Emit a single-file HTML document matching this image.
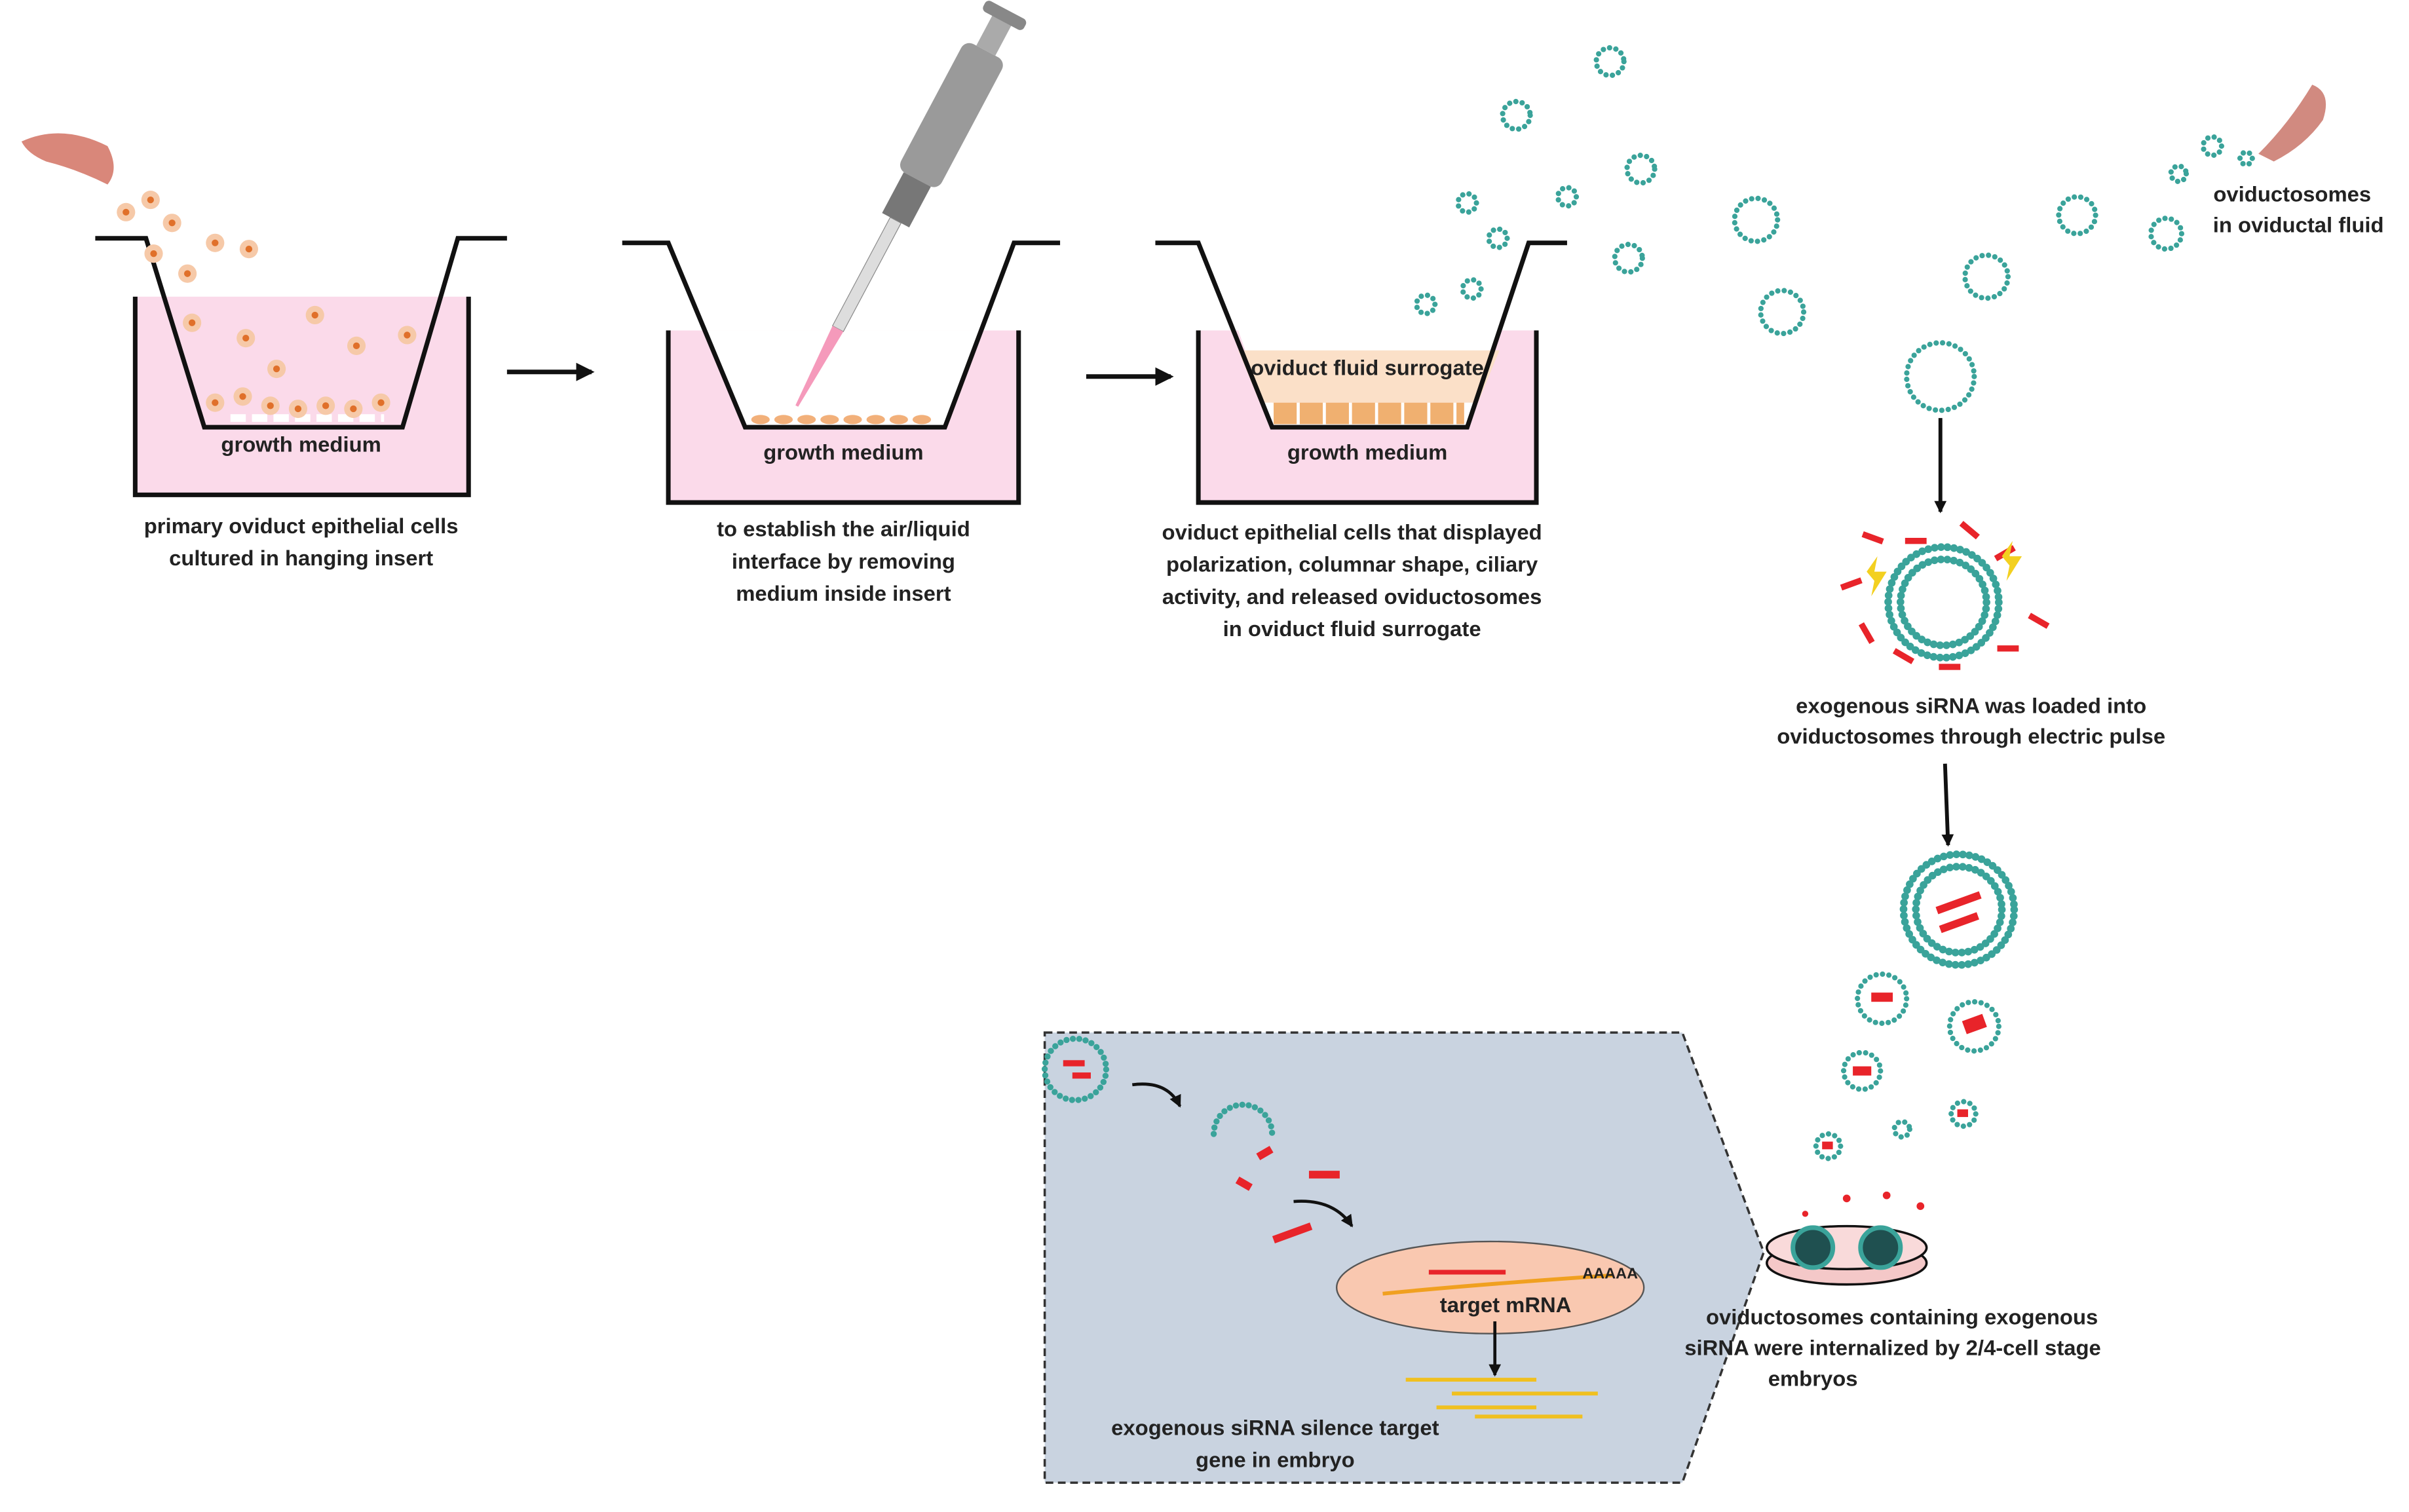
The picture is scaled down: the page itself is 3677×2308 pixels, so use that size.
<!DOCTYPE html>
<html><head><meta charset="utf-8"><style>
html,body{margin:0;padding:0;background:#fff}
svg{display:block}
text{font-family:"Liberation Sans",sans-serif;font-weight:bold;fill:#222}
</style></head><body>
<svg width="3677" height="2308" viewBox="0 0 1568 984" xmlns="http://www.w3.org/2000/svg">
<defs>
<marker id="ah" markerWidth="8" markerHeight="8" refX="7" refY="4" orient="auto" markerUnits="userSpaceOnUse"><path d="M0,0 L8,4 L0,8z" fill="#111"/></marker>
<marker id="ah2" markerWidth="12" markerHeight="12" refX="10" refY="6" orient="auto" markerUnits="userSpaceOnUse"><path d="M0,0 L12,6 L0,12z" fill="#111"/></marker>
<g id="cell"><circle r="6" fill="#f6c9a8"/><circle r="2.2" fill="#e0702a"/></g>
</defs>
<style>
.ves{fill:none;stroke:#3aa39a;stroke-linecap:round;stroke-dasharray:0 4.2}
.w{fill:none;stroke:#111;stroke-width:3}
.lab{font-size:14px;text-anchor:middle}
.si{fill:#e8242a}
</style>

<path d="M14,92 Q40,80 70,95 Q78,110 70,120 Q50,110 30,105 Q18,100 14,92z" fill="#d9877a"/>
<path d="M1470,100 Q1490,80 1505,55 Q1518,60 1512,78 Q1500,95 1480,105z" fill="#d18a80"/>

<!-- insert 1 -->
<rect x="88" y="193" width="217" height="129" fill="#fbdaea"/>
<path d="M88,193 V322 H305 V193" class="w" stroke-width="2"/>
<polyline class="w" points="62,155 95,155 133,278 262,278 298,155 330,155"/>
<path d="M150,272 H250" stroke="#fff" stroke-width="5" stroke-dasharray="10 4"/>
<use href="#cell" x="82" y="138"/><use href="#cell" x="98" y="130"/><use href="#cell" x="112" y="145"/><use href="#cell" x="140" y="158"/><use href="#cell" x="162" y="162"/><use href="#cell" x="122" y="178"/><use href="#cell" x="100" y="165"/>
<use href="#cell" x="125" y="210"/><use href="#cell" x="160" y="220"/><use href="#cell" x="205" y="205"/><use href="#cell" x="232" y="225"/><use href="#cell" x="265" y="218"/><use href="#cell" x="180" y="240"/>
<use href="#cell" x="140" y="262"/><use href="#cell" x="158" y="258"/><use href="#cell" x="176" y="264"/><use href="#cell" x="194" y="266"/><use href="#cell" x="212" y="264"/><use href="#cell" x="230" y="266"/><use href="#cell" x="248" y="262"/>
<text x="196" y="294" class="lab" font-size="15">growth medium</text>
<text x="196" y="347" class="lab">primary oviduct epithelial cells</text>
<text x="196" y="368" class="lab">cultured in hanging insert</text>

<line x1="330" y1="242" x2="385" y2="242" stroke="#111" stroke-width="3" marker-end="url(#ah2)"/>

<!-- insert 2 -->
<rect x="435" y="215" width="228" height="112" fill="#fbdaea"/>
<polygon points="459,215 485,278 615,278 639,215" fill="#fff"/>
<path d="M435,215 V327 H663 V215" class="w" stroke-width="2"/>
<polyline class="w" points="405,158 435,158 485,278 615,278 660,158 690,158"/>
<g fill="#f2b07a"><ellipse cx="495" cy="273" rx="6" ry="3"/><ellipse cx="510" cy="273" rx="6" ry="3"/><ellipse cx="525" cy="273" rx="6" ry="3"/><ellipse cx="540" cy="273" rx="6" ry="3"/><ellipse cx="555" cy="273" rx="6" ry="3"/><ellipse cx="570" cy="273" rx="6" ry="3"/><ellipse cx="585" cy="273" rx="6" ry="3"/><ellipse cx="600" cy="273" rx="6" ry="3"/></g>
<g transform="rotate(28 590 130)">
<rect x="575" y="20" width="30" height="95" rx="6" fill="#9a9a9a"/>
<rect x="580" y="115" width="20" height="30" fill="#777"/>
<rect x="586" y="145" width="8" height="80" fill="#ddd" stroke="#888" stroke-width="0.5"/>
<polygon points="586,225 594,225 591,282 589,282" fill="#f59abb"/>
<rect x="583" y="-5" width="14" height="25" fill="#aaa"/>
<rect x="575" y="-10" width="30" height="8" rx="3" fill="#888"/>
</g>
<text x="549" y="299" class="lab" font-size="15">growth medium</text>
<text x="549" y="349" class="lab">to establish the air/liquid</text>
<text x="549" y="370" class="lab">interface by removing</text>
<text x="549" y="391" class="lab">medium inside insert</text>

<line x1="707" y1="245" x2="762" y2="245" stroke="#111" stroke-width="3" marker-end="url(#ah2)"/>

<!-- insert 3 -->
<polygon points="780,215 806,215 828,278 955,278 976,215 1000,215 1000,327 780,327" fill="#fbdaea"/>
<path d="M780,215 V327 H1000 V215" class="w" stroke-width="2"/>
<polygon points="806,228 976,228 962,262 820,262" fill="#fbe0c8"/>
<g fill="#f0b070"><rect x="828" y="262" width="125" height="14"/></g>
<path d="M828,262 V276 M845,262 V276 M862,262 V276 M879,262 V276 M896,262 V276 M913,262 V276 M930,262 V276 M947,262 V276" stroke="#fff" stroke-width="2"/>
<polyline class="w" points="752,158 780,158 828,278 955,278 995,158 1020,158"/>
<text x="890" y="244" class="lab" font-size="13">oviduct fluid surrogate</text>
<text x="890" y="299" class="lab" font-size="15">growth medium</text>
<text x="880" y="351" class="lab">oviduct epithelial cells that displayed</text>
<text x="880" y="372" class="lab">polarization, columnar shape, ciliary</text>
<text x="880" y="393" class="lab">activity, and released oviductosomes</text>
<text x="880" y="414" class="lab">in oviduct fluid surrogate</text>

<g class="ves" stroke-width="3.5">
<circle cx="1048" cy="40" r="9"/><circle cx="987" cy="75" r="9"/><circle cx="1068" cy="110" r="9"/><circle cx="955" cy="132" r="6"/><circle cx="1020" cy="128" r="6"/><circle cx="975" cy="155" r="6"/><circle cx="1060" cy="168" r="9"/><circle cx="958" cy="188" r="6"/><circle cx="928" cy="198" r="6"/>
<circle cx="1143" cy="143" r="14"/><circle cx="1160" cy="203" r="14"/><circle cx="1293" cy="180" r="14"/><circle cx="1352" cy="140" r="12"/><circle cx="1410" cy="152" r="10"/><circle cx="1440" cy="95" r="6"/><circle cx="1418" cy="113" r="5"/><circle cx="1462" cy="103" r="4"/>
<circle cx="1263" cy="245" r="22"/>
</g>
<text x="1492" y="131" class="lab">oviductosomes</text>
<text x="1496" y="151" class="lab">in oviductal fluid</text>

<line x1="1263" y1="272" x2="1263" y2="333" stroke="#111" stroke-width="2.5" marker-end="url(#ah)"/>

<g class="ves" stroke-width="5"><circle cx="1265" cy="392" r="36"/><circle cx="1265" cy="392" r="28"/></g>
<g class="si">
<rect x="1212" y="348" width="14" height="4" transform="rotate(20 1219 350)"/><rect x="1240" y="350" width="14" height="4"/><rect x="1275" y="343" width="14" height="4" transform="rotate(40 1282 345)"/><rect x="1298" y="358" width="14" height="4" transform="rotate(-30 1305 360)"/>
<rect x="1320" y="402" width="14" height="4" transform="rotate(30 1327 404)"/><rect x="1300" y="420" width="14" height="4"/><rect x="1262" y="432" width="14" height="4"/><rect x="1232" y="425" width="14" height="4" transform="rotate(30 1239 427)"/><rect x="1208" y="410" width="14" height="4" transform="rotate(60 1215 412)"/><rect x="1198" y="378" width="14" height="4" transform="rotate(-20 1205 380)"/>
</g>
<polygon points="1215,372 1222,362 1220,372 1228,372 1218,388 1220,378" fill="#f3d020"/>
<polygon points="1303,362 1310,352 1308,362 1316,362 1306,378 1308,368" fill="#f3d020"/>
<text x="1283" y="464" class="lab">exogenous siRNA was loaded into</text>
<text x="1283" y="484" class="lab">oviductosomes through electric pulse</text>

<line x1="1266" y1="497" x2="1268" y2="550" stroke="#111" stroke-width="2.5" marker-end="url(#ah)"/>

<g class="ves" stroke-width="5"><circle cx="1275" cy="592" r="36"/><circle cx="1275" cy="592" r="28"/></g>
<g class="si"><rect x="1260" y="585" width="30" height="5" transform="rotate(-20 1275 588)"/><rect x="1262" y="598" width="26" height="5" transform="rotate(-20 1275 600)"/></g>
<g class="ves" stroke-width="3.5"><circle cx="1225" cy="650" r="16"/><circle cx="1285" cy="668" r="16"/><circle cx="1212" cy="697" r="12"/><circle cx="1278" cy="725" r="8"/><circle cx="1190" cy="746" r="8"/><circle cx="1238" cy="735" r="5"/></g>
<g class="si"><rect x="1218" y="646" width="14" height="6"/><rect x="1278" y="662" width="14" height="9" transform="rotate(-20 1285 666)"/><rect x="1206" y="694" width="12" height="6"/><rect x="1274" y="722" width="7" height="5"/><rect x="1186" y="743" width="7" height="5"/></g>
<g fill="#e8242a"><circle cx="1202" cy="780" r="2.5"/><circle cx="1228" cy="778" r="2.5"/><circle cx="1250" cy="785" r="2.5"/><circle cx="1175" cy="790" r="2"/></g>

<!-- gray box -->
<polygon points="680,672 1095,672 1148,815 1095,965 680,965" fill="#c9d3e0" stroke="#333" stroke-width="1.5" stroke-dasharray="5 3"/>
<g class="ves" stroke-width="4"><circle cx="700" cy="696" r="20"/></g>
<g class="si"><rect x="692" y="690" width="14" height="4"/><rect x="698" y="698" width="12" height="4"/></g>
<path d="M737,706 Q760,703 768,720" fill="none" stroke="#111" stroke-width="2" marker-end="url(#ah)"/>
<path d="M790,738 A18,18 0 1,1 828,738" class="ves" stroke-width="4"/>
<g class="si"><rect x="818" y="748" width="10" height="5" transform="rotate(-30 823 750)"/><rect x="805" y="768" width="10" height="5" transform="rotate(30 810 770)"/><rect x="852" y="762" width="20" height="5"/><rect x="828" y="800" width="26" height="5" transform="rotate(-20 841 802)"/></g>
<path d="M842,782 Q868,780 880,798" fill="none" stroke="#111" stroke-width="2" marker-end="url(#ah)"/>
<ellipse cx="970" cy="838" rx="100" ry="30" fill="#f9c8b0" stroke="#555" stroke-width="1"/>
<path d="M900,842 Q960,836 1050,830" fill="none" stroke="#f0a020" stroke-width="2.5"/>
<path d="M930,828 H980" stroke="#e8242a" stroke-width="3"/>
<text x="980" y="854" class="lab" font-size="11">target mRNA</text>
<text x="1030" y="832" font-size="10" font-weight="normal">AAAAA</text>
<line x1="973" y1="860" x2="973" y2="895" stroke="#111" stroke-width="2" marker-end="url(#ah)"/>
<g stroke="#f0c020" stroke-width="2.5"><line x1="915" y1="898" x2="1000" y2="898"/><line x1="945" y1="907" x2="1040" y2="907"/><line x1="935" y1="916" x2="1000" y2="916"/><line x1="960" y1="922" x2="1030" y2="922"/></g>
<text x="830" y="934" class="lab">exogenous siRNA silence target</text>
<text x="830" y="955" class="lab">gene in embryo</text>

<!-- dish (on top) -->
<ellipse cx="1202" cy="822" rx="52" ry="14" fill="#f4c8c8" stroke="#111" stroke-width="1.5"/>
<ellipse cx="1202" cy="812" rx="52" ry="14" fill="#f9dada" stroke="#111" stroke-width="1.5"/>
<circle cx="1180" cy="812" r="13" fill="#1f5050" stroke="#3aa39a" stroke-width="3"/>
<circle cx="1224" cy="812" r="13" fill="#1f5050" stroke="#3aa39a" stroke-width="3"/>
<text x="1238" y="862" class="lab">oviductosomes containing exogenous</text>
<text x="1232" y="882" class="lab">siRNA were internalized by 2/4-cell stage</text>
<text x="1180" y="902" class="lab">embryos</text>
</svg>
</body></html>
